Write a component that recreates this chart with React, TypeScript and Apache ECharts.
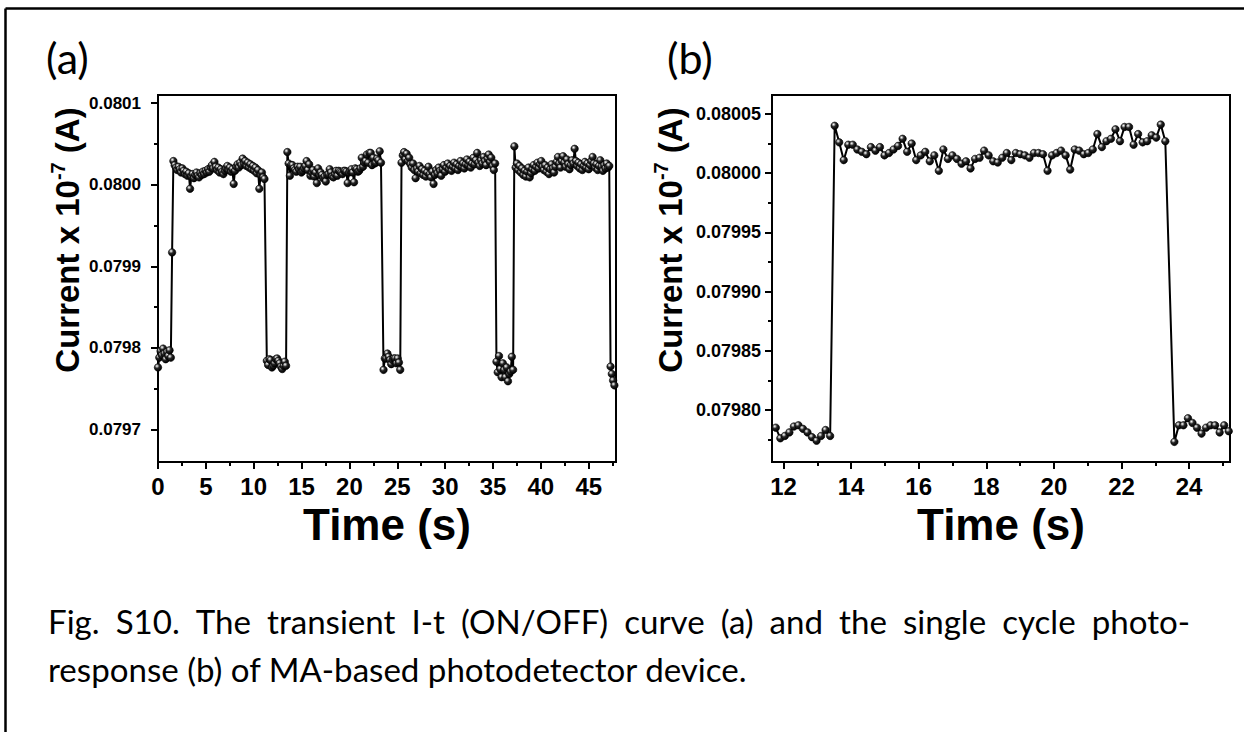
import React, { useEffect, useRef } from "react";
import * as echarts from "echarts";

// ---------------- DATA ----------------
// Sampling interval of the I-t measurement (s)
const sampleInterval = 0.134;

// Start time (s) of each recorded stretch (OFF / ON states)
const segmentStarts = [0, 1.608, 11.37, 13.514, 23.564, 25.44, 35.36, 37.23, 47.28];

// Current values (x 10^-7 A)
const offState0 = [
  0.079776, 0.079788, 0.079796, 0.079791, 0.079799, 0.079793, 0.079786, 0.079795,
  0.079790, 0.079797, 0.079788, 0.079917,
];
const onState1 = [
  0.080029, 0.080024, 0.080021, 0.080018, 0.080022, 0.080019, 0.080015, 0.08002,
  0.080017, 0.080013, 0.080016, 0.080011, 0.080014, 0.079995, 0.08001, 0.080013,
  0.080008, 0.080012, 0.080015, 0.080011, 0.080009, 0.080014, 0.080012, 0.080016,
  0.080013, 0.080017, 0.080015, 0.080019, 0.080016, 0.080021, 0.080024, 0.08002,
  0.080028, 0.080022, 0.080018, 0.080021, 0.080015, 0.080019, 0.080016, 0.080013,
  0.080017, 0.08002, 0.080023, 0.080018, 0.080021, 0.080016, 0.080019, 0.080001,
  0.080017, 0.080022, 0.080025, 0.080021, 0.080027, 0.080024, 0.080032, 0.080026,
  0.080029, 0.080023, 0.080027, 0.080021, 0.080025, 0.080019, 0.080023, 0.080017,
  0.080021, 0.080014, 0.080018, 0.079995, 0.080012, 0.080015, 0.080009, 0.080007,
];
const offState1 = [
  0.079784, 0.079779, 0.079786, 0.079785, 0.079776, 0.079778, 0.079781, 0.079786,
  0.079787, 0.079784, 0.079781, 0.079777, 0.079774, 0.079778, 0.079783, 0.079778,
];
const onState2 = [
  0.08004, 0.080026, 0.080011, 0.080024, 0.080024, 0.08002, 0.080018, 0.080016,
  0.080022, 0.080019, 0.080022, 0.080015, 0.080017, 0.08002, 0.080023, 0.080029,
  0.080018, 0.080025, 0.080011, 0.080015, 0.080018, 0.08001, 0.080015, 0.080002,
  0.08002, 0.080012, 0.080015, 0.080012, 0.080008, 0.08001, 0.080004, 0.080012,
  0.080013, 0.080019, 0.080015, 0.08001, 0.080009, 0.080013, 0.080017, 0.080011,
  0.080017, 0.080016, 0.080015, 0.080013, 0.080017, 0.080017, 0.080016, 0.080002,
  0.080015, 0.080017, 0.080019, 0.080015, 0.080003, 0.08002, 0.080019, 0.080016,
  0.080017, 0.08002, 0.080033, 0.080022, 0.080027, 0.080029, 0.080037, 0.080027,
  0.080039, 0.080039, 0.080024, 0.080033, 0.080026, 0.080027, 0.080032, 0.08003,
  0.080041, 0.080027,
];
const offState2 = [
  0.079773, 0.079787, 0.079787, 0.079793, 0.079789, 0.079785, 0.07978, 0.079785,
  0.079787, 0.079787, 0.079781, 0.079787, 0.079782, 0.079773,
];
const onState3 = [
  0.080027, 0.080036, 0.08004, 0.080031, 0.080038, 0.080029, 0.080033, 0.080025,
  0.080021, 0.080026, 0.080018, 0.080008, 0.08002, 0.080016, 0.080023, 0.080014,
  0.080019, 0.080012, 0.080017, 0.08001, 0.080015, 0.080022, 0.080013, 0.080009,
  0.080016, 0.080001, 0.080012, 0.080018, 0.080014, 0.080021, 0.080017, 0.080011,
  0.080019, 0.080024, 0.080016, 0.080021, 0.080026, 0.080019, 0.080023, 0.080017,
  0.080022, 0.080027, 0.08002, 0.080025, 0.080018, 0.080023, 0.080029, 0.080022,
  0.080026, 0.08002, 0.080025, 0.080031, 0.080024, 0.080028, 0.080021, 0.080026,
  0.080033, 0.080025, 0.08003, 0.080039, 0.080027, 0.080023, 0.08003, 0.080026,
  0.080034, 0.080029, 0.080024, 0.080032, 0.080037, 0.080028, 0.080033, 0.080023,
  0.080018, 0.080026,
];
const offState3 = [
  0.079783, 0.07977, 0.07979, 0.079774, 0.079764, 0.079781, 0.079773, 0.079764,
  0.079776, 0.079759, 0.079768, 0.079771, 0.079789, 0.079773,
];
const onState4 = [
  0.080047, 0.080021, 0.080026, 0.080018, 0.080023, 0.080015, 0.08002, 0.080012,
  0.080017, 0.08001, 0.080016, 0.080021, 0.080009, 0.080014, 0.080019, 0.080024,
  0.080017, 0.080022, 0.080027, 0.08002, 0.080025, 0.080029, 0.080022, 0.080018,
  0.080024, 0.080016, 0.080021, 0.080013, 0.080019, 0.080025, 0.08002, 0.080015,
  0.080022, 0.080028, 0.080034, 0.080026, 0.080021, 0.080029, 0.080035, 0.080027,
  0.080022, 0.080031, 0.080025, 0.080019, 0.080024, 0.08003, 0.080026, 0.080044,
  0.080029, 0.080023, 0.080027, 0.08002, 0.080025, 0.080018, 0.080023, 0.080028,
  0.080021, 0.080026, 0.080019, 0.080024, 0.080029, 0.080034, 0.080026, 0.080021,
  0.080025, 0.080018, 0.080023, 0.08003, 0.080022, 0.080017, 0.080024, 0.08002,
  0.080026, 0.080021, 0.080023,
];
const offState4 = [0.079777, 0.079768, 0.07976, 0.079754];

const segmentValues = [
  offState0, onState1, offState1, onState2, offState2, onState3, offState3, onState4, offState4,
];

// Axis ticks
const ticksAx = [0, 5, 10, 15, 20, 25, 30, 35, 40, 45];
const minorAx = [2.5, 7.5, 12.5, 17.5, 22.5, 27.5, 32.5, 37.5, 42.5, 47.5];
const ticksAy = [0.0797, 0.0798, 0.0799, 0.08, 0.0801];
const minorAy = [0.07975, 0.07985, 0.07995, 0.08005];
const ticksBx = [12, 14, 16, 18, 20, 22, 24];
const minorBx = [13, 15, 17, 19, 21, 23, 25];
const ticksBy = [0.0798, 0.07985, 0.0799, 0.07995, 0.08, 0.08005];
const minorBy = [0.079775, 0.079825, 0.079875, 0.079925, 0.079975, 0.080025];

const panelLabels = ["(a)", "(b)"];
const xTitle = "Time (s)";
const captionLine1 =
  "Fig. S10. The transient I-t (ON/OFF) curve (a) and the single cycle photo-";
const captionLine2 = "response (b) of MA-based photodetector device.";

// ---------------- STYLE ----------------
const axisFont = "'Liberation Sans', Arial, Helvetica, sans-serif";
const captionFont = "Lato, 'Open Sans', sans-serif";
const captionSize = 33;

function buildPoints(): [number, number][] {
  const pts: [number, number][] = [];
  segmentValues.forEach((vals, s) => {
    vals.forEach((v, i) => {
      pts.push([+(segmentStarts[s] + i * sampleInterval).toFixed(3), v]);
    });
  });
  return pts;
}

function measure(ctx: CanvasRenderingContext2D, t: string) {
  return ctx.measureText(t).width;
}

function captionElements() {
  const canvas = document.createElement("canvas");
  const ctx = canvas.getContext("2d")!;
  ctx.font = `${captionSize}px ${captionFont}`;
  const left = 48;
  // line 2 in the reference runs from x=48 to about x=748 -> horizontal scale factor
  const sx = (748 - left) / measure(ctx, captionLine2);
  const font = `${captionSize}px ${captionFont}`;
  const mk = (text: string, x: number, y: number) => ({
    type: "text",
    x,
    y,
    scaleX: sx,
    style: { text, font, fill: "#000", verticalAlign: "middle", align: "left" },
  });
  const words = captionLine1.split(" ");
  const widths = words.map((w) => measure(ctx, w) * sx);
  const total = widths.reduce((a, b) => a + b, 0);
  const gap = (1190 - left - total) / (words.length - 1);
  const els: any[] = [];
  let x = left;
  words.forEach((w, i) => {
    els.push(mk(w, x, 621));
    x += widths[i] + gap;
  });
  els.push(mk(captionLine2, left, 669));
  return els;
}

export default function App() {
  const ref = useRef<HTMLDivElement>(null);
  useEffect(() => {
    if (!ref.current) return;
    const chart = echarts.init(ref.current, undefined, { renderer: "svg" });
    const points = buildPoints();

    const ball = new echarts.graphic.RadialGradient(0.36, 0.32, 0.68, [
      { offset: 0, color: "#ffffff" },
      { offset: 0.16, color: "#b8b8b8" },
      { offset: 0.45, color: "#262626" },
      { offset: 1, color: "#000000" },
    ]);

    const labelStyle = (size: number) => ({
      fontSize: size,
      fontWeight: "bold" as const,
      color: "#000",
      fontFamily: axisFont,
    });

    const mainX = (grid: number, min: number, max: number, ticks: number[]) => ({
      type: "value",
      gridIndex: grid,
      min,
      max,
      position: "bottom",
      axisLine: { show: true, onZero: false, lineStyle: { color: "#000", width: 2 } },
      axisTick: { show: true, customValues: ticks, length: 7, lineStyle: { color: "#000", width: 2 } },
      axisLabel: { customValues: ticks, margin: 12, ...labelStyle(24) },
      splitLine: { show: false },
      name: xTitle,
      nameLocation: "middle",
      nameGap: 34,
      nameTextStyle: { fontSize: 44, fontWeight: "bold", color: "#000", fontFamily: axisFont },
    });
    const minorX = (grid: number, min: number, max: number, ticks: number[]) => ({
      type: "value",
      gridIndex: grid,
      min,
      max,
      position: "bottom",
      axisLine: { show: false, onZero: false },
      axisTick: { show: true, customValues: ticks, length: 4, lineStyle: { color: "#000", width: 2 } },
      axisLabel: { show: false },
      splitLine: { show: false },
    });
    const mainY = (
      grid: number,
      min: number,
      max: number,
      ticks: number[],
      digits: number,
      margin: number,
      size: number
    ) => ({
      type: "value",
      gridIndex: grid,
      min,
      max,
      position: "left",
      axisLine: { show: true, onZero: false, lineStyle: { color: "#000", width: 2 } },
      axisTick: { show: true, customValues: ticks, length: 7, lineStyle: { color: "#000", width: 2 } },
      axisLabel: {
        customValues: ticks,
        margin,
        formatter: (v: number) => v.toFixed(digits),
        ...labelStyle(size),
      },
      splitLine: { show: false },
    });
    const minorY = (grid: number, min: number, max: number, ticks: number[]) => ({
      type: "value",
      gridIndex: grid,
      min,
      max,
      position: "left",
      axisLine: { show: false, onZero: false },
      axisTick: { show: true, customValues: ticks, length: 4, lineStyle: { color: "#000", width: 2 } },
      axisLabel: { show: false },
      splitLine: { show: false },
    });

    const seriesStyle = (xi: number, yi: number) => ({
      type: "line",
      xAxisIndex: xi,
      yAxisIndex: yi,
      data: points,
      clip: true,
      symbol: "circle",
      symbolSize: 7.5,
      showSymbol: true,
      lineStyle: { color: "#000", width: 2 },
      itemStyle: { color: ball, borderColor: "#000", borderWidth: 0.6 },
      emphasis: { disabled: true },
      z: 3,
    });

    const yTitle = (x: number, y: number) => ({
      type: "text",
      x,
      y,
      rotation: Math.PI / 2,
      style: {
        text: "{a|Current x 10}{s|-7}{a| (A)}",
        align: "center",
        verticalAlign: "middle",
        fill: "#000",
        rich: {
          a: { fontSize: 33, fontWeight: "bold", fontFamily: axisFont, lineHeight: 38, fill: "#000" },
          s: {
            fontSize: 20,
            fontWeight: "bold",
            fontFamily: axisFont,
            lineHeight: 22,
            verticalAlign: "top",
            fill: "#000",
          },
        },
      },
    });

    const graphic: any[] = [
      { type: "line", shape: { x1: 5.5, y1: 8.5, x2: 1244, y2: 8.5 }, style: { stroke: "#000", lineWidth: 2.5 } },
      { type: "line", shape: { x1: 5.5, y1: 8.5, x2: 5.5, y2: 732 }, style: { stroke: "#000", lineWidth: 2.5 } },
      {
        type: "text",
        x: 46,
        y: 36,
        style: { text: panelLabels[0], font: `43px ${captionFont}`, fill: "#000", verticalAlign: "top" },
      },
      {
        type: "text",
        x: 667,
        y: 36,
        style: { text: panelLabels[1], font: `43px ${captionFont}`, fill: "#000", verticalAlign: "top" },
      },
      yTitle(67, 240),
      yTitle(670, 240),
      ...captionElements(),
    ];

    chart.setOption({
      animation: false,
      backgroundColor: "#fff",
      grid: [
        { left: 158, top: 95, width: 458, height: 367, show: true, borderColor: "#000", borderWidth: 2 },
        { left: 772, top: 95, width: 458, height: 367, show: true, borderColor: "#000", borderWidth: 2 },
      ],
      xAxis: [
        mainX(0, 0, 47.85, ticksAx),
        minorX(0, 0, 47.85, minorAx),
        mainX(1, 11.66, 25.21, ticksBx),
        minorX(1, 11.66, 25.21, minorBx),
      ],
      yAxis: [
        mainY(0, 0.07966, 0.08011, ticksAy, 4, 17, 17),
        minorY(0, 0.07966, 0.08011, minorAy),
        mainY(1, 0.079756, 0.080066, ticksBy, 5, 11, 18),
        minorY(1, 0.079756, 0.080066, minorBy),
      ],
      series: [seriesStyle(0, 0), seriesStyle(2, 2)],
      graphic,
    });

    return () => chart.dispose();
  }, []);

  return (
    <div
      ref={ref}
      style={{ position: "fixed", left: 0, top: 0, width: 1244, height: 732, background: "#fff" }}
    />
  );
}
